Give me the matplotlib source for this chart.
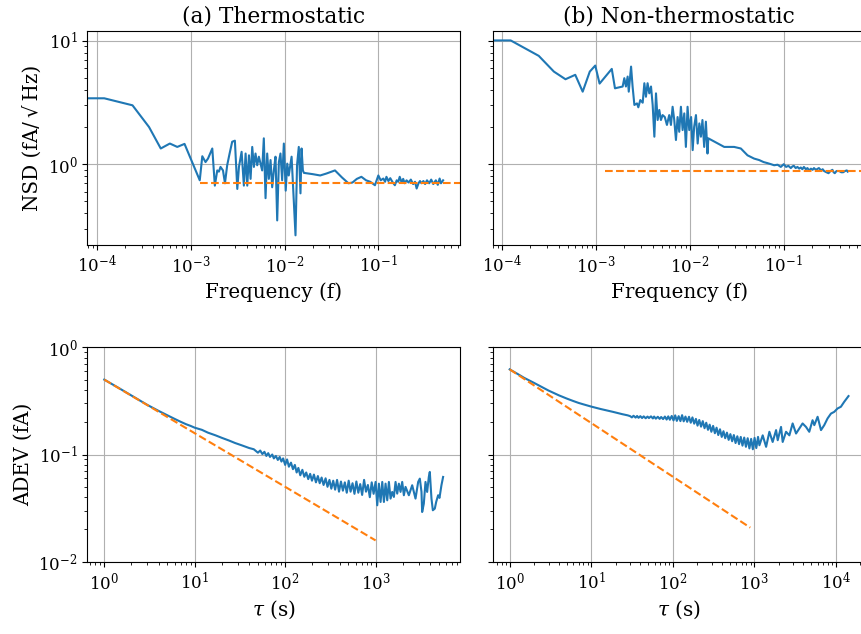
import matplotlib
matplotlib.use("Agg")
import matplotlib.pyplot as plt

plt.rcParams["font.family"] = ["DejaVu Serif"]
plt.rcParams["mathtext.fontset"] = "dejavuserif"

# --- noise spectral density, thermostatic (first point is the DC bin) ---
freq_a = [0, 1.2e-4, 2.4e-4, 3.6e-4, 4.8e-4, 6.0e-4, 7.2e-4, 8.6e-4, 1.25e-3,
          1.33e-3, 1.44e-3, 1.53e-3, 1.70e-3, 1.81e-3, 1.92e-3, 2.00e-3, 2.08e-3,
          2.21e-3, 2.32e-3, 2.45e-3, 2.60e-3, 2.77e-3, 2.96e-3, 3.14e-3, 3.27e-3,
          3.49e-3, 3.69e-3, 3.85e-3, 4.01e-3, 4.18e-3, 4.35e-3, 4.53e-3, 4.72e-3,
          4.91e-3, 5.12e-3, 5.33e-3, 5.78e-3, 6.02e-3, 6.28e-3, 6.54e-3, 6.81e-3,
          7.10e-3, 7.39e-3, 7.70e-3, 8.02e-3, 8.36e-3, 8.71e-3, 9.06e-3, 9.44e-3,
          9.84e-3, 1.03e-2, 1.07e-2, 1.11e-2, 1.19e-2, 1.26e-2, 1.31e-2, 1.36e-2,
          1.42e-2, 1.48e-2, 1.52e-2, 1.57e-2, 1.61e-2, 2.0e-2, 2.4e-2, 2.8e-2,
          3.45e-2, 4.1e-2, 4.8e-2, 5.3e-2, 5.9e-2, 6.6e-2, 7.4e-2, 8.2e-2, 9.2e-2,
          0.100, 0.106, 0.113, 0.118, 0.122, 0.128, 0.134, 0.141, 0.150, 0.157,
          0.163, 0.169, 0.177, 0.184, 0.191, 0.200, 0.210, 0.222, 0.235, 0.246,
          0.256, 0.268, 0.278, 0.288, 0.302, 0.315, 0.330, 0.348, 0.366, 0.385,
          0.41, 0.43, 0.45, 0.465, 0.49]
nsd_a = [3.42, 3.42, 3.0, 2.0, 1.34, 1.47, 1.38, 1.46, 0.74,
         1.16, 1.04, 1.11, 1.34, 0.67, 0.89, 0.87, 0.95,
         0.89, 0.70, 0.98, 1.22, 1.52, 1.55, 0.63, 0.95,
         1.26, 0.67, 1.22, 0.67, 1.18, 0.76, 1.38, 0.95,
         1.22, 0.98, 1.15, 0.89, 1.62, 0.53, 1.22, 0.76,
         1.08, 0.65, 0.89, 1.15, 0.35, 1.04, 1.22, 0.74,
         1.47, 0.61, 1.01, 0.81, 1.15, 0.48, 0.265, 0.98,
         1.38, 0.58, 1.34, 0.89, 0.85, 0.83, 0.81, 0.84,
         0.89, 0.78, 0.70, 0.71, 0.76, 0.79, 0.74, 0.72, 0.675,
         0.81, 0.74, 0.765, 0.72, 0.79, 0.73, 0.77, 0.72, 0.675, 0.74,
         0.72, 0.79, 0.71, 0.76, 0.70, 0.74, 0.71, 0.75, 0.69, 0.72,
         0.635, 0.70, 0.73, 0.70, 0.73, 0.69, 0.74, 0.70, 0.75, 0.69,
         0.74, 0.68, 0.765, 0.70, 0.74]

# --- noise spectral density, non-thermostatic ---
freq_b = [0, 1.23e-4, 2.45e-4, 3.55e-4, 4.72e-4, 6.0e-4, 7.2e-4, 8.57e-4, 9.8e-4,
          1.09e-3, 1.47e-3, 1.59e-3, 1.77e-3, 1.92e-3, 2.00e-3, 2.08e-3, 2.17e-3,
          2.23e-3, 2.36e-3, 2.45e-3, 2.56e-3, 2.73e-3, 2.82e-3, 2.96e-3, 3.14e-3,
          3.27e-3, 3.40e-3, 3.54e-3, 3.69e-3, 3.85e-3, 4.01e-3, 4.18e-3, 4.35e-3,
          4.53e-3, 4.72e-3, 4.91e-3, 5.12e-3, 5.40e-3, 5.69e-3, 6.02e-3, 6.28e-3,
          6.54e-3, 6.81e-3, 7.10e-3, 7.39e-3, 7.70e-3, 8.02e-3, 8.36e-3, 8.71e-3,
          9.06e-3, 9.44e-3, 9.84e-3, 1.03e-2, 1.07e-2, 1.11e-2, 1.16e-2, 1.21e-2,
          1.26e-2, 1.31e-2, 1.36e-2, 1.42e-2, 1.48e-2, 1.54e-2, 1.57e-2, 2.32e-2,
          2.96e-2, 3.49e-2, 4.11e-2, 4.83e-2, 5.47e-2, 6.1e-2, 6.7e-2, 7.3e-2,
          7.9e-2, 8.6e-2, 9.3e-2, 0.100, 0.106, 0.112, 0.119, 0.124, 0.128, 0.134,
          0.140, 0.146, 0.152, 0.158, 0.164, 0.172, 0.179, 0.186, 0.195, 0.203,
          0.210, 0.220, 0.237, 0.250, 0.260, 0.269, 0.285, 0.300, 0.315, 0.330,
          0.340, 0.350, 0.365, 0.390, 0.41, 0.43, 0.45, 0.47, 0.48]
nsd_b = [10.07, 10.07, 7.55, 5.63, 4.88, 5.3, 3.87, 5.63, 6.3,
         4.5, 5.92, 4.12, 4.2, 4.26, 4.98, 4.26, 5.13,
         3.87, 6.18, 4.26, 3.02, 3.11, 2.89, 3.31, 3.15,
         4.53, 3.52, 4.53, 3.75, 4.26, 3.02, 1.67, 3.75,
         2.28, 2.75, 2.28, 2.50, 2.41, 2.08, 2.50, 2.08,
         2.92, 2.28, 1.57, 2.41, 1.83, 2.92, 1.89, 2.58,
         1.38, 2.92, 1.89, 2.41, 1.30, 2.01, 2.50, 1.47,
         2.14, 1.67, 2.28, 1.38, 2.21, 1.22, 1.62, 1.38,
         1.38, 1.34, 1.18, 1.11, 1.08, 1.04, 1.02, 1.00,
         0.98, 0.99, 0.95, 1.00, 0.95, 0.97, 0.93, 0.96, 0.97, 0.93,
         0.95, 0.92, 0.94, 0.91, 0.95, 0.91, 0.93, 0.89, 0.92, 0.90,
         0.93, 0.90, 0.93, 0.89, 0.91, 0.88, 0.86, 0.845, 0.88, 0.90,
         0.86, 0.845, 0.88, 0.88, 0.86, 0.86, 0.88, 0.89, 0.87]

# white-noise floor fits
floor_f = [1.26e-3, 1.0]
floor_a = [0.71, 0.71]
floor_b = [0.877, 0.877]

# --- Allan deviation, thermostatic ---
tau_a = [1, 1.5, 2, 3, 4, 5, 6, 7, 8, 9, 10, 12, 14, 17, 20, 24, 28, 33, 40, 45,
         50, 53, 56, 59, 62, 65, 68, 72, 75, 79, 83, 87, 91, 95, 100, 105, 110,
         116, 122, 128, 134, 140, 147, 155, 163, 171, 180, 189, 198, 208, 219,
         230, 241, 253, 266, 280, 294, 309, 324, 340, 357, 375, 394, 414, 435,
         457, 480, 504, 529, 556, 584, 613, 644, 676, 710, 746, 783, 822, 863,
         906, 951, 1000, 1043, 1088, 1135, 1185, 1236, 1289, 1345, 1403, 1464,
         1527, 1593, 1662, 1734, 1809, 1887, 1969, 2054, 2143, 2332, 2539, 2763,
         2956, 3084, 3217, 3272, 3414, 3562, 3716, 3877, 3976, 4148, 4296, 4515,
         4675, 4913, 5087, 5346, 5577]
adev_a = [0.50, 0.41, 0.355, 0.29, 0.255, 0.232, 0.215, 0.202, 0.192, 0.185,
          0.178, 0.170, 0.160, 0.151, 0.143, 0.135, 0.128, 0.122, 0.115, 0.112,
          0.104, 0.109, 0.101, 0.106, 0.097, 0.103, 0.095, 0.100, 0.092, 0.097,
          0.089, 0.095, 0.086, 0.092, 0.080, 0.090, 0.077, 0.084, 0.073, 0.080,
          0.068, 0.075, 0.064, 0.072, 0.062, 0.068, 0.059, 0.066, 0.057, 0.065,
          0.055, 0.063, 0.054, 0.061, 0.052, 0.060, 0.050, 0.058, 0.048, 0.057,
          0.047, 0.058, 0.045, 0.056, 0.046, 0.055, 0.044, 0.057, 0.045, 0.054,
          0.043, 0.056, 0.044, 0.053, 0.042, 0.058, 0.045, 0.052, 0.040, 0.055,
          0.043, 0.0555, 0.0336, 0.0535, 0.0361, 0.0555, 0.0361, 0.0535, 0.0374,
          0.0555, 0.0388, 0.0448, 0.0402, 0.0555, 0.0432, 0.0535, 0.0448, 0.0555,
          0.0417, 0.0499, 0.0417, 0.0517, 0.0388, 0.0555, 0.0596, 0.0448, 0.0291,
          0.0348, 0.0555, 0.0448, 0.0618, 0.0688, 0.0388, 0.0302, 0.0313, 0.0361,
          0.0417, 0.0394, 0.0517, 0.0618]

# --- Allan deviation, non-thermostatic ---
tau_b = [1, 1.25, 1.5, 2, 2.5, 3, 4, 5, 6, 7, 8, 10, 13, 18.5, 24, 28, 30, 31.5,
         33, 35, 36.5, 38, 40, 42, 44, 46.5, 49, 51, 54, 57, 59, 62, 65.5, 69,
         72, 76, 80, 84, 88, 92, 97, 102, 107, 112, 118, 124, 130, 136, 143, 150,
         158, 166, 174, 183, 192, 201, 211, 222, 233, 245, 257, 270, 283, 297,
         312, 328, 344, 361, 379, 398, 418, 439, 461, 484, 508, 534, 560, 588,
         618, 649, 681, 715, 751, 788, 828, 869, 913, 958, 1006, 1056, 1109, 1153,
         1265, 1393, 1528, 1676, 1846, 1933, 2123, 2224, 2445, 2686, 2946, 3243,
         3559, 3902, 4295, 4710, 5170, 5430, 5960, 6560, 7190, 7890, 8690, 9530,
         10470, 11500, 12620, 14260]
adev_b = [0.623, 0.565, 0.52, 0.465, 0.425, 0.395, 0.357, 0.333, 0.316, 0.303,
          0.294, 0.280, 0.266, 0.25, 0.238, 0.232, 0.228, 0.222, 0.230, 0.221,
          0.229, 0.220, 0.228, 0.219, 0.227, 0.218, 0.226, 0.219, 0.227, 0.217,
          0.226, 0.216, 0.225, 0.215, 0.224, 0.214, 0.226, 0.212, 0.227, 0.211,
          0.229, 0.208, 0.232, 0.206, 0.228, 0.205, 0.233, 0.204, 0.226, 0.202,
          0.225, 0.198, 0.222, 0.194, 0.215, 0.186, 0.210, 0.182, 0.205, 0.176,
          0.198, 0.170, 0.190, 0.163, 0.185, 0.158, 0.178, 0.152, 0.172, 0.146,
          0.165, 0.142, 0.160, 0.137, 0.155, 0.133, 0.152, 0.128, 0.148, 0.125,
          0.146, 0.121, 0.144, 0.118, 0.142, 0.114, 0.140, 0.112, 0.143, 0.115,
          0.146, 0.122, 0.151, 0.118, 0.163, 0.131, 0.169, 0.136, 0.181, 0.131,
          0.163, 0.151, 0.195, 0.157, 0.175, 0.195, 0.181, 0.163, 0.209, 0.188,
          0.225, 0.169, 0.188, 0.217, 0.241, 0.25, 0.269, 0.279, 0.31, 0.351]

# tau^-1/2 white-noise reference lines
ref_tau_a = [1, 1000]
ref_adev_a = [0.5, 0.0158]
ref_tau_b = [1, 890]
ref_adev_b = [0.623, 0.0208]


def main():
    fig, axes = plt.subplots(2, 2, figsize=(8.62, 6.34), dpi=100)
    (ax1, ax2), (ax3, ax4) = axes
    ax2.sharex(ax1)
    ax2.sharey(ax1)
    ax4.sharey(ax3)

    for ax in axes.flat:
        ax.set_xscale("log")
        ax.set_yscale("log")
        ax.grid(True, which="major")
        ax.tick_params(labelsize=12)

    # NSD: limits follow the measured spectra only, the floor fit runs to the edge
    ax1.plot(freq_a, nsd_a, color="C0", lw=1.5)
    ax2.plot(freq_b, nsd_b, color="C0", lw=1.5)
    ax1.set_xlim(ax1.get_xlim())
    ax1.plot(floor_f, floor_a, color="C1", ls="--", lw=1.5)
    ax2.plot(floor_f, floor_b, color="C1", ls="--", lw=1.5)
    for ax in (ax1, ax2):
        ax.set_xlabel("Frequency (f)", fontsize=14.3)

    for ax, t, a, rt, ra in [(ax3, tau_a, adev_a, ref_tau_a, ref_adev_a),
                             (ax4, tau_b, adev_b, ref_tau_b, ref_adev_b)]:
        ax.plot(t, a, color="C0", lw=1.5)
        ax.plot(rt, ra, color="C1", ls="--", lw=1.5)
        ax.set_xlabel(r"$\tau$ (s)", fontsize=14.3)
    ax3.set_ylim(0.01, 1)

    ax1.set_title("(a) Thermostatic", fontsize=15.7)
    ax2.set_title("(b) Non-thermostatic", fontsize=15.7)
    ax1.set_ylabel("NSD (fA/\u2009\u221a\u2009Hz)", fontsize=14.3)
    ax3.set_ylabel("ADEV (fA)", fontsize=14.3)
    ax2.tick_params(labelleft=False)
    ax4.tick_params(labelleft=False)

    fig.subplots_adjust(left=0.1013, right=1.004, top=0.9516, bottom=0.114,
                        wspace=0.0877, hspace=0.477)
    fig.savefig("out.png", dpi=100)


if __name__ == "__main__":
    main()
